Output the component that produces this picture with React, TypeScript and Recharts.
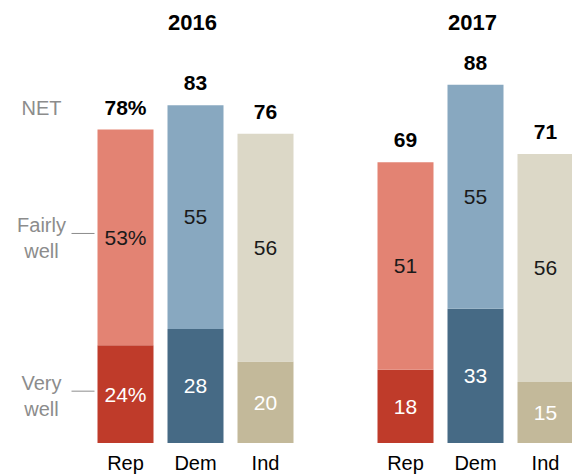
import React from 'react'
import { BarChart, Bar, XAxis, YAxis, Cell, LabelList } from 'recharts'

// party categories, with an empty slot between the two years
const categories = ['Rep', 'Dem', 'Ind', '', 'Rep', 'Dem', 'Ind']
const groupTitles = ['', '2016', '', '', '', '2017', '']
const veryWell = [24, 28, 20, null, 18, 33, 15]
const fairlyWell = [53, 55, 56, null, 51, 55, 56]
const netValues = [78, 83, 76, null, 69, 88, 71]
const veryLabels = ['24%', '28', '20', '', '18', '33', '15']
const fairlyLabels = ['53%', '55', '56', '', '51', '55', '56']
const netLabels = ['78%', '83', '76', '', '69', '88', '71']

const veryColors = ['#BF3B2A', '#466A85', '#C3B99A', '#fff', '#BF3B2A', '#466A85', '#C3B99A']
const fairlyColors = ['#E38373', '#88A8C0', '#DCD8C7', '#fff', '#E38373', '#88A8C0', '#DCD8C7']

const data = categories.map((cat, i) => ({
    cat,
    title: groupTitles[i],
    very: veryWell[i],
    fairly: fairlyWell[i],
    net: netValues[i],
    veryLabel: veryLabels[i],
    fairlyLabel: fairlyLabels[i],
    netLabel: netLabels[i],
}))

const FONT = '"Liberation Sans", Arial, sans-serif'
const GREY = '#8C8C8C'

const insideLabel = (fill: string) => (props: any) => {
    const { x, y, width, height, value } = props
    if (!value) return null
    return (
        <text x={x + width / 2} y={y + height / 2} dy="0.35em" textAnchor="middle"
            fill={fill} fontSize={21} fontFamily={FONT}>
            {value}
        </text>
    )
}

const netLabel = (props: any) => {
    const { x, y, width, value } = props
    if (!value) return null
    return (
        <text x={x + width / 2} y={y - 15} textAnchor="middle" fill="#000"
            fontSize={21} fontWeight="bold" fontFamily={FONT}>
            {value}
        </text>
    )
}

// side notes drawn next to the first bar only
const sideNote = (lines: string[], lineDy: number, net: boolean) => (props: any) => {
    const { x, y, height, index } = props
    if (index !== 0) return null
    const cx = x - 56
    if (net) {
        return (
            <text x={cx} y={y - 15} textAnchor="middle" fill={GREY} fontSize={20} fontFamily={FONT}>
                NET
            </text>
        )
    }
    const mid = y + height / 2
    return (
        <g>
            <text x={cx} y={mid + lineDy} textAnchor="middle" fill={GREY} fontSize={20} fontFamily={FONT}>
                <tspan x={cx}>{lines[0]}</tspan>
                <tspan x={cx} dy={26}>{lines[1]}</tspan>
            </text>
            <line x1={x - 26} x2={x - 3} y1={mid + lineDy + 1} y2={mid + lineDy + 1} stroke={GREY} strokeWidth={1} />
        </g>
    )
}

const BottomTick = (props: any) => {
    const { x, y, payload } = props
    return (
        <text x={x} y={y + 25} textAnchor="middle" fill="#000" fontSize={20} fontFamily={FONT}>
            {payload.value}
        </text>
    )
}

const TopTick = (props: any) => {
    const { x, index } = props
    const t = groupTitles[index]
    if (!t) return null
    return (
        <text x={x - 3} y={30} textAnchor="middle" fill="#000" fontSize={22} fontWeight="bold" fontFamily={FONT}>
            {t}
        </text>
    )
}

export default function App() {
    return (
        <div style={{ position: 'absolute', left: 0, top: 0, width: 572, height: 474, overflow: 'hidden' }}>
            <BarChart width={610} height={474} data={data}
                margin={{ top: 0, right: 29.5, bottom: 0, left: 90.5 }}>
                <XAxis dataKey="cat" axisLine={false} tickLine={false} tickSize={0}
                    height={31} interval={0} tick={<BottomTick />} />
                <XAxis xAxisId="top" dataKey="cat" orientation="top" axisLine={false} tickLine={false}
                    tickSize={0} height={36} interval={0} tick={<TopTick />} />
                <YAxis hide domain={[0, 100]} />
                <Bar dataKey="very" stackId="a" barSize={56} isAnimationActive={false}>
                    {data.map((d, i) => <Cell key={i} fill={veryColors[i]} />)}
                    <LabelList dataKey="veryLabel" content={insideLabel('#fff')} />
                    <LabelList dataKey="veryLabel" content={sideNote(['Very', 'well'], -4, false)} />
                </Bar>
                <Bar dataKey="fairly" stackId="a" barSize={56} isAnimationActive={false}>
                    {data.map((d, i) => <Cell key={i} fill={fairlyColors[i]} />)}
                    <LabelList dataKey="fairlyLabel" content={insideLabel('#1a1a1a')} />
                    <LabelList dataKey="netLabel" content={netLabel} />
                    <LabelList dataKey="netLabel" content={sideNote([], 0, true)} />
                    <LabelList dataKey="fairlyLabel" content={sideNote(['Fairly', 'well'], -5, false)} />
                </Bar>
            </BarChart>
        </div>
    )
}
